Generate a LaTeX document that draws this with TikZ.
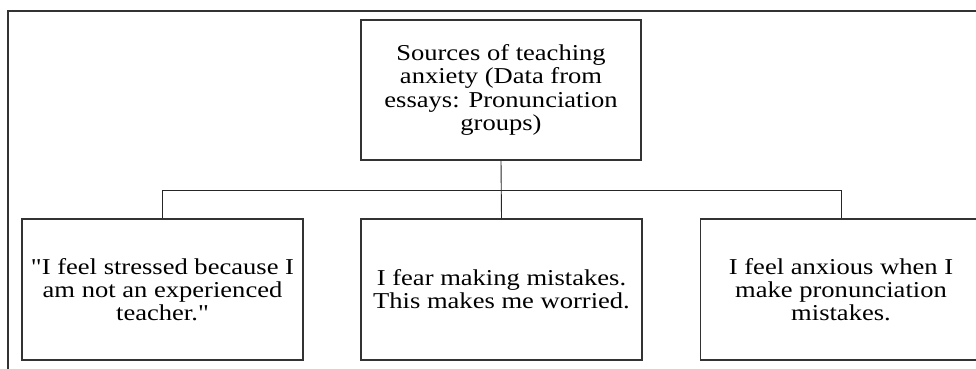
\documentclass[tikz,border=0pt]{standalone}
\usepackage{fontspec}
\setmainfont{Liberation Serif}[FakeStretch=1.17, Ligatures=TeXOff]
\begin{document}
\begin{tikzpicture}[x=1pt, y=1pt,
  box/.style={draw=black!80, line width=1.2pt, minimum width=281pt, minimum height=141pt,
    inner sep=0pt, align=center, font=\fontsize{22.7}{23.3}\selectfont},
  link/.style={draw=black!85, line width=0.9pt}]
  \useasboundingbox (0,0) rectangle (976,368);
  \clip (0,0) rectangle (976,368);
  % outer frame
  \draw[black!80, line width=1.4pt] (8,-5) -- (8,357) -- (990,357);
  % root
  \node[box, minimum width=280pt, minimum height=140pt] (src) at (501,278)
    {Sources of teaching\\ anxiety (Data from\\ essays: Pronunciation\\ groups)};
  % quotes
  \node[box] (stressed) at (162.5,78.5) {"I feel stressed because I\\ am not an experienced\\ teacher."};
  \node[box] (fear) at (501.5,78.5) {I fear making mistakes.\\ This makes me worried.};
  \node[box] (anxious) at (841,78.5) {I feel anxious when I\\ make pronunciation\\ mistakes.};
  % tree lines
  \coordinate (bar) at (501,178);
  \draw[link] (src.south) -- (fear.north);
  \draw[link] (stressed.north) -- (stressed.north |- bar) -- (anxious.north |- bar) -- (anxious.north);
\end{tikzpicture}
\end{document}
